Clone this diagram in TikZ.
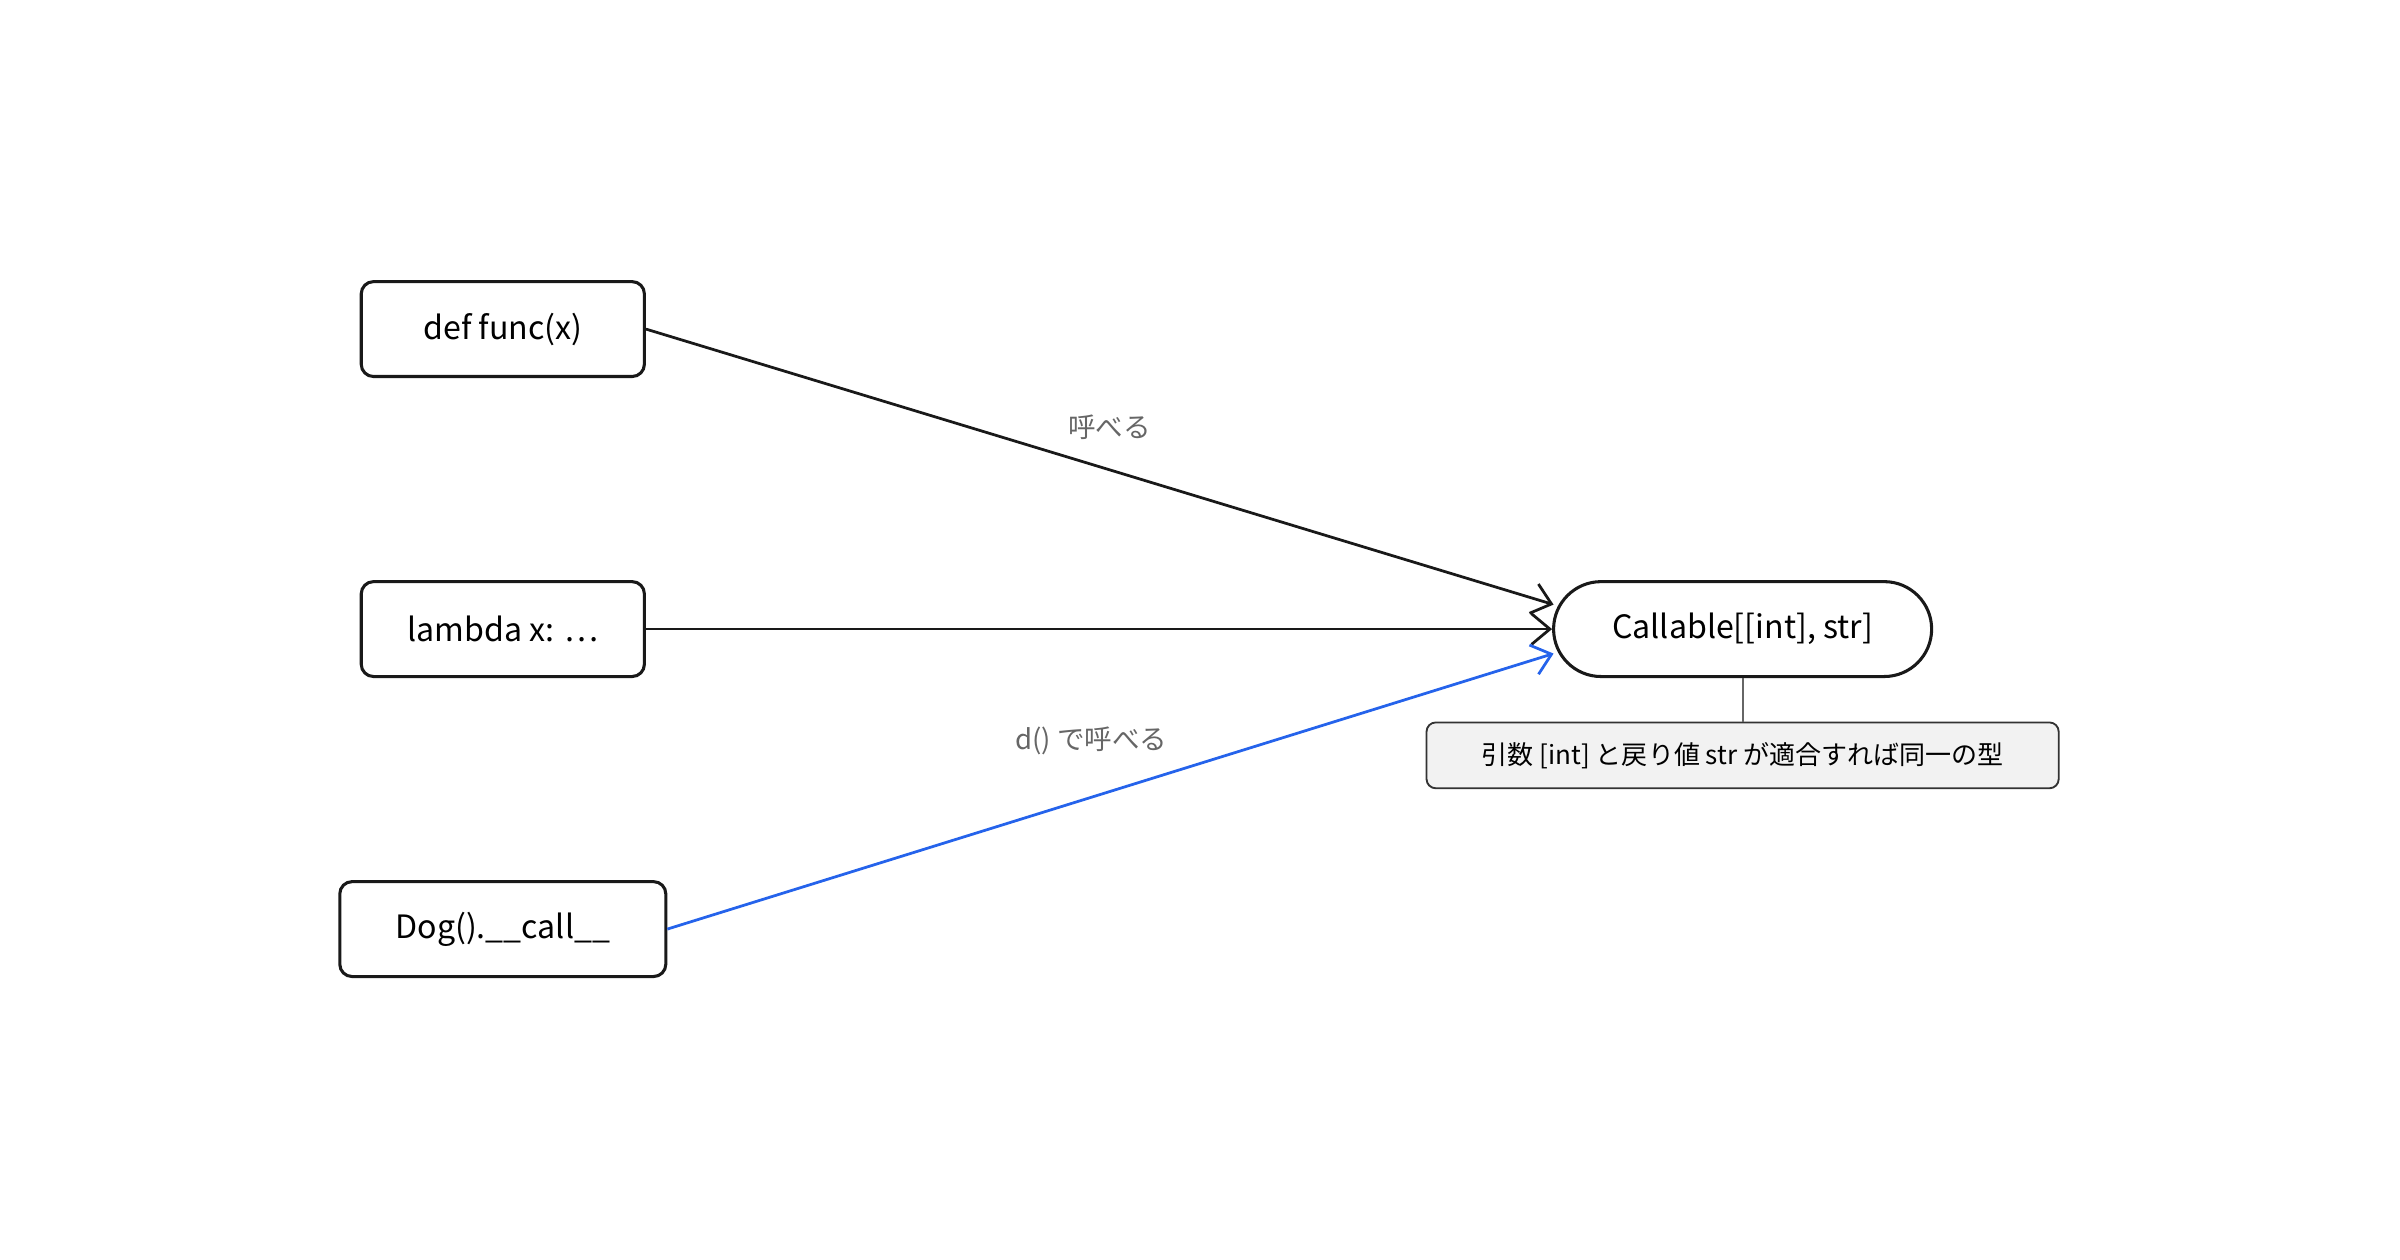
\documentclass[tikz,border=0pt]{standalone}
\usepackage{fontspec}
\setmainfont{Noto Sans CJK JP}
\usetikzlibrary{arrows.meta,shapes.misc}
\begin{document}
\begin{tikzpicture}[x=0.5pt,y=-0.5pt,
  box/.style={draw=black!90,line width=1pt,rounded corners=4pt,minimum height=31pt,font=\fontsize{10.5}{12}\selectfont,inner sep=0pt},
  edge/.style={line width=0.9pt,-{Straight Barb[length=6pt,width=10pt]}},
  lbl/.style={text=black!60,font=\fontsize{9}{11}\selectfont}]
\useasboundingbox (0,0) rectangle (1568,823);
\node[box,minimum width=92.5pt] (f) at (328.5,215) {def func(x)};
\node[box,minimum width=92.5pt] (l) at (328.5,411) {lambda x: …};
\node[box,minimum width=106.5pt] (d) at (328.5,607) {Dog().\_\_call\_\_};
\node[box,rounded rectangle,rounded corners=0pt,minimum width=123.5pt] (c) at (1138.5,411) {Callable[[int], str]};
\node[draw=black!80,line width=0.6pt,rounded corners=3pt,fill=black!5,minimum width=206.5pt,minimum height=21.5pt,inner sep=0pt,font=\fontsize{8.5}{10}\selectfont] (n) at (1138.5,493.5) {引数 [int] と戻り値 str が適合すれば同一の型};
\draw[black!60,line width=0.6pt] (c.south) -- (n.north);
\coordinate (c1) at (1015,395);
\coordinate (c3) at (1015,427);
\draw[edge,black!90] (f.east) -- (c1);
\draw[edge,black!90] (l.east) -- (c.west);
\draw[edge,blue!70!cyan!80!black,draw={rgb,255:red,37;green,99;blue,235}] (d.east) -- (c3);
\node[lbl] (t1) at (725,279) {呼べる};
\node[lbl] (t2) at (713,484) {d() で呼べる};
\end{tikzpicture}
\end{document}
